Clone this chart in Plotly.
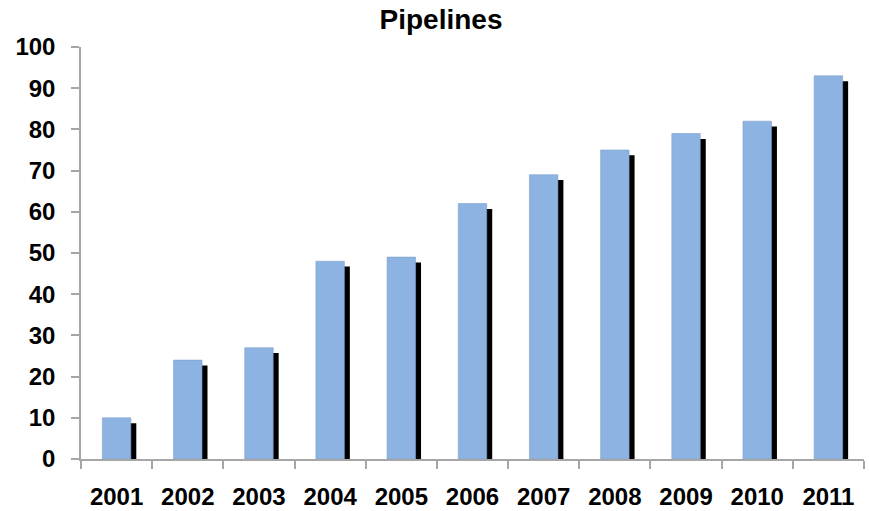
import plotly.graph_objects as go

years = ["2001", "2002", "2003", "2004", "2005", "2006",
         "2007", "2008", "2009", "2010", "2011"]
pipelines = [10, 24, 27, 48, 49, 62, 69, 75, 79, 82, 93]

bar_color = "#8DB3E2"
axis_color = "#A6A6A6"
font_family = "Liberation Sans, Arial, sans-serif"

bar_w = 0.40
shadow_dx = 0.077   # shadow shift to the right, in category units
shadow_dy = 1.3     # shadow drop, in value units

fig = go.Figure()

# drop shadow behind each bar
fig.add_trace(go.Bar(
    x=years, y=[v - shadow_dy + 0.4 for v in pipelines], base=-0.4,
    width=bar_w, offset=-bar_w / 2 + shadow_dx,
    marker=dict(color="#000000", line=dict(width=0)),
    cliponaxis=False, hoverinfo="skip", showlegend=False,
))

# main bars
fig.add_trace(go.Bar(
    x=years, y=pipelines,
    width=bar_w, offset=-bar_w / 2,
    marker=dict(color=bar_color, line=dict(color="#7F9FCB", width=0.6)),
    showlegend=False, name="Pipelines",
))

fig.update_layout(
    width=869, height=511,
    margin=dict(l=81, r=5, t=47, b=52, autoexpand=False),
    paper_bgcolor="white", plot_bgcolor="white",
    barmode="overlay",
    title=dict(text="<b>Pipelines</b>", x=441 / 869, xanchor="center",
               y=1 - 9 / 511, yanchor="top",
               font=dict(family=font_family, size=28, color="black")),
    font=dict(family=font_family, color="black"),
)

fig.update_xaxes(
    type="category", automargin=False,
    showline=True, linecolor=axis_color, linewidth=1.5,
    ticks="outside", tickson="boundaries", ticklen=8,
    tickcolor=axis_color, tickwidth=1.5,
    showgrid=False, zeroline=False,
    tickfont=dict(family=font_family, size=24, color="black", weight="bold"),
    ticklabelstandoff=15,
)

fig.update_yaxes(
    range=[0, 100], tickmode="linear", tick0=0, dtick=10, automargin=False,
    showline=True, linecolor=axis_color, linewidth=1.5,
    ticks="outside", ticklen=8, tickcolor=axis_color, tickwidth=1.5,
    showgrid=False, zeroline=False,
    tickfont=dict(family=font_family, size=24, color="black", weight="bold"),
    ticklabelstandoff=11,
)

fig.write_html("out.html")
